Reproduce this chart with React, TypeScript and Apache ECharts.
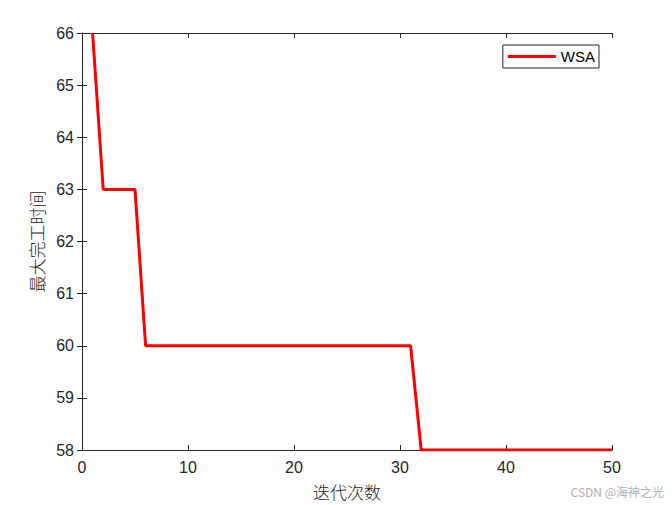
import React, { useEffect, useRef } from "react";
import * as echarts from "echarts";

const iterations: number[] = [
  1, 2, 3, 4, 5, 6, 7, 8, 9, 10, 11, 12, 13, 14, 15, 16, 17, 18, 19, 20, 21, 22, 23, 24, 25,
  26, 27, 28, 29, 30, 31, 32, 33, 34, 35, 36, 37, 38, 39, 40, 41, 42, 43, 44, 45, 46, 47, 48, 49, 50,
];
const wsaValues: number[] = [
  66, 63, 63, 63, 63, 60, 60, 60, 60, 60, 60, 60, 60, 60, 60, 60, 60, 60, 60, 60, 60, 60, 60, 60, 60,
  60, 60, 60, 60, 60, 60, 58, 58, 58, 58, 58, 58, 58, 58, 58, 58, 58, 58, 58, 58, 58, 58, 58, 58, 58,
];
const seriesName = "WSA";
const xName = "迭代次数";
const yName = "最大完工时间";
const watermark = "CSDN @海神之光";

export default function App() {
  const ref = useRef<HTMLDivElement>(null);
  useEffect(() => {
    if (!ref.current) return;
    const chart = echarts.init(ref.current, null, { renderer: "svg" });
    const axisColor = "#262626";
    const labelFont = "Liberation Sans, Arial, sans-serif";
    const cjkFont = "Noto Sans CJK SC, sans-serif";
    const commonAxis = {
      axisLine: { show: true, lineStyle: { color: axisColor, width: 1 } },
      axisTick: { show: true, inside: true, length: 5, lineStyle: { color: axisColor } },
      splitLine: { show: false },
    };
    chart.setOption({
      animation: false,
      backgroundColor: "#ffffff",
      grid: { left: 82, top: 33, right: 60, bottom: 50, containLabel: false },
      legend: {
        data: [seriesName],
        right: 73,
        top: 45,
        icon: "rect",
        itemWidth: 48,
        itemHeight: 3,
        itemGap: 5,
        padding: [4, 4, 4, 5],
        borderColor: axisColor,
        borderWidth: 1,
        backgroundColor: "#ffffff",
        textStyle: { fontSize: 15, color: "#000", fontFamily: labelFont },
      },
      xAxis: [
        {
          type: "value",
          min: 0,
          max: 50,
          interval: 10,
          position: "bottom",
          name: xName,
          nameLocation: "middle",
          nameGap: 33,
          nameTextStyle: { fontSize: 17, color: axisColor, fontFamily: cjkFont, fontWeight: 300 },
          axisLabel: { fontSize: 16, color: axisColor, margin: 9, fontFamily: labelFont },
          ...commonAxis,
        },
        {
          type: "value",
          min: 0,
          max: 50,
          interval: 10,
          position: "top",
          axisLabel: { show: false },
          ...commonAxis,
        },
      ],
      yAxis: [
        {
          type: "value",
          min: 58,
          max: 66,
          interval: 1,
          position: "left",
          name: yName,
          nameLocation: "middle",
          nameGap: 33,
          nameTextStyle: { fontSize: 17, color: axisColor, fontFamily: cjkFont, fontWeight: 300 },
          axisLabel: { fontSize: 16, color: axisColor, margin: 8, fontFamily: labelFont },
          ...commonAxis,
        },
        {
          type: "value",
          min: 58,
          max: 66,
          interval: 1,
          position: "right",
          axisLabel: { show: false },
          ...commonAxis,
        },
      ],
      series: [
        {
          name: seriesName,
          type: "line",
          data: iterations.map((x, i) => [x, wsaValues[i]]),
          symbol: "none",
          lineStyle: { color: "#ff0000", width: 3 },
          itemStyle: { color: "#ff0000" },
          clip: true,
        },
      ],
      graphic: [
        {
          type: "text",
          right: 8,
          top: 485,
          style: { text: watermark, fontSize: 12, fill: "#b0b0b0", fontFamily: cjkFont },
        },
      ],
    });
    return () => chart.dispose();
  }, []);
  return (
    <div
      ref={ref}
      style={{ position: "fixed", left: 0, top: 0, width: 672, height: 505 }}
    />
  );
}
